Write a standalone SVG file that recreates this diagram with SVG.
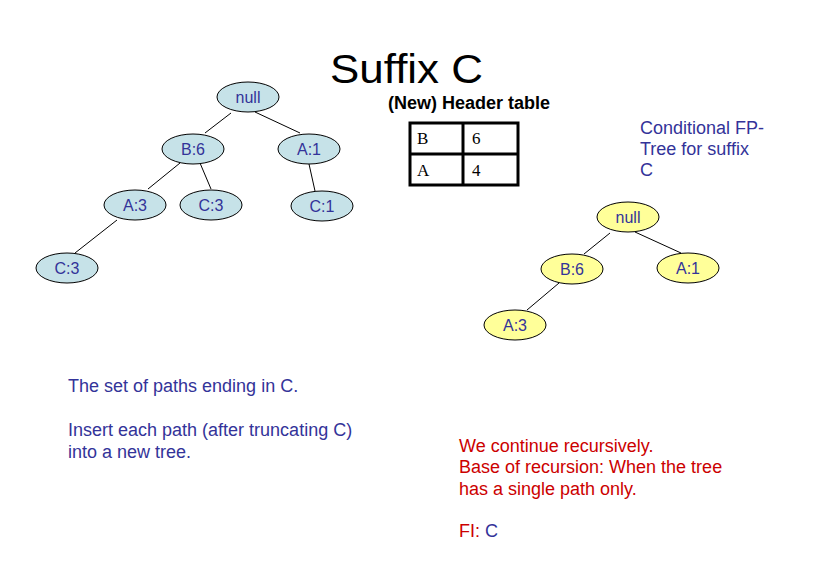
<svg xmlns="http://www.w3.org/2000/svg" width="813" height="566" viewBox="0 0 813 566">
<style>
.nb{fill:#C6E2E8;stroke:#000;stroke-width:1}
.ny{fill:#FFFF99;stroke:#000;stroke-width:1}
.nl{font-family:"Liberation Sans",Arial,sans-serif;font-size:16px;fill:#333399;text-anchor:middle}
.e{stroke:#000;stroke-width:1;fill:none}
.bt{font-family:"Liberation Sans",Arial,sans-serif;font-size:18px;fill:#333399}
.rt{font-family:"Liberation Sans",Arial,sans-serif;font-size:18px;fill:#CC0000}
.tt{font-family:"Liberation Serif","Times New Roman",serif;font-size:17px;fill:#000}
</style>
<rect width="813" height="566" fill="#fff"/>
<text x="330" y="83" font-family="Liberation Sans,Arial,sans-serif" font-size="40" fill="#000" textLength="153" lengthAdjust="spacingAndGlyphs">Suffix C</text>
<text x="388" y="109" font-family="Liberation Sans,Arial,sans-serif" font-size="18" font-weight="bold" fill="#000">(New) Header table</text>
<g id="header-table">
<rect x="410" y="123" width="108" height="62" fill="#fff" stroke="#000" stroke-width="3"/>
<line x1="410" y1="154" x2="518" y2="154" stroke="#000" stroke-width="3"/>
<line x1="463" y1="123" x2="463" y2="185" stroke="#000" stroke-width="3"/>
<text class="tt" x="417" y="144">B</text>
<text class="tt" x="472" y="144">6</text>
<text class="tt" x="417" y="176">A</text>
<text class="tt" x="472" y="176">4</text>
</g>
<g id="connectors">
<line class="e" x1="231" y1="113" x2="205" y2="133"/>
<line class="e" x1="255" y1="112" x2="300" y2="133"/>
<line class="e" x1="180" y1="163" x2="148" y2="189"/>
<line class="e" x1="200" y1="163" x2="211" y2="189"/>
<line class="e" x1="309" y1="164" x2="315" y2="191"/>
<line class="e" x1="117" y1="220" x2="75" y2="253"/>
<line class="e" x1="610" y1="233" x2="584" y2="254"/>
<line class="e" x1="635" y1="232" x2="681" y2="253"/>
<line class="e" x1="559" y1="283" x2="527" y2="310"/>
</g>
<g id="l-null"><ellipse class="nb" cx="248" cy="97" rx="31" ry="15"/><text class="nl" x="248" y="103">null</text></g>
<g id="l-b6"><ellipse class="nb" cx="193" cy="149" rx="31" ry="15"/><text class="nl" x="193" y="155">B:6</text></g>
<g id="l-a1"><ellipse class="nb" cx="309" cy="149" rx="31" ry="15"/><text class="nl" x="309" y="155">A:1</text></g>
<g id="l-a3"><ellipse class="nb" cx="135" cy="205" rx="31" ry="15"/><text class="nl" x="135" y="211">A:3</text></g>
<g id="l-c3"><ellipse class="nb" cx="211" cy="205" rx="31" ry="15"/><text class="nl" x="211" y="211">C:3</text></g>
<g id="l-c1"><ellipse class="nb" cx="322" cy="206" rx="31" ry="15"/><text class="nl" x="322" y="212">C:1</text></g>
<g id="l-c3b"><ellipse class="nb" cx="67" cy="268" rx="31" ry="15"/><text class="nl" x="67" y="274">C:3</text></g>
<g id="r-null"><ellipse class="ny" cx="628" cy="217" rx="31" ry="15"/><text class="nl" x="628" y="223">null</text></g>
<g id="r-b6"><ellipse class="ny" cx="572" cy="269" rx="31" ry="15"/><text class="nl" x="572" y="275">B:6</text></g>
<g id="r-a1"><ellipse class="ny" cx="688" cy="268" rx="31" ry="15"/><text class="nl" x="688" y="274">A:1</text></g>
<g id="r-a3"><ellipse class="ny" cx="515" cy="325" rx="31" ry="15"/><text class="nl" x="515" y="331">A:3</text></g>
<text class="bt" x="640" y="134">Conditional FP-</text>
<text class="bt" x="640" y="155">Tree for suffix</text>
<text class="bt" x="640" y="176">C</text>
<text class="bt" x="68" y="392">The set of paths ending in C.</text>
<text class="bt" x="68" y="436">Insert each path (after truncating C)</text>
<text class="bt" x="68" y="458">into a new tree.</text>
<text class="rt" x="459" y="452">We continue recursively.</text>
<text class="rt" x="459" y="473">Base of recursion: When the tree</text>
<text class="rt" x="459" y="495">has a single path only.</text>
<text class="rt" x="459" y="537">FI: <tspan fill="#333399">C</tspan></text>
</svg>
